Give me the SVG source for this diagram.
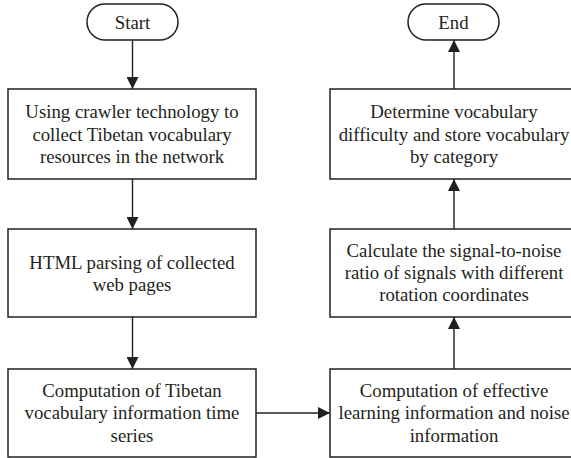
<svg xmlns="http://www.w3.org/2000/svg" width="571" height="458" viewBox="0 0 571 458">
<style>
.box{fill:#fff;stroke:#231f20;stroke-width:1.5}
.t{font-family:"Liberation Serif","Times New Roman",serif;font-size:18.8px;fill:#231f20;text-anchor:middle}
.c{fill:none;stroke:#231f20;stroke-width:1.4}
</style>
<defs>
<marker id="ah" markerUnits="userSpaceOnUse" markerWidth="12" markerHeight="12" refX="12" refY="6" orient="auto" viewBox="0 0 12 12">
<path d="M0,0 L12,6 L0,12 Z" fill="#231f20"/>
</marker>
</defs>
<rect width="571" height="458" fill="#fff"/>
<g id="connectors">
<line class="c" x1="132.5" y1="40" x2="132.5" y2="89" marker-end="url(#ah)"/>
<line class="c" x1="132.5" y1="179" x2="132.5" y2="229" marker-end="url(#ah)"/>
<line class="c" x1="132.5" y1="317" x2="132.5" y2="369" marker-end="url(#ah)"/>
<line class="c" x1="256" y1="413" x2="330" y2="413" marker-end="url(#ah)"/>
<line class="c" x1="454" y1="369" x2="454" y2="317" marker-end="url(#ah)"/>
<line class="c" x1="454" y1="229" x2="454" y2="179" marker-end="url(#ah)"/>
<line class="c" x1="454" y1="89" x2="454" y2="40" marker-end="url(#ah)"/>
</g>
<g id="start">
<rect class="box" x="87" y="4" width="91" height="36" rx="18"/>
<text class="t" x="132.5" y="28.5">Start</text>
</g>
<g id="crawl">
<rect class="box" x="8" y="89" width="248" height="90"/>
<text class="t" x="132" y="118">Using crawler technology to</text>
<text class="t" x="132" y="140.5">collect Tibetan vocabulary</text>
<text class="t" x="132" y="162.5">resources in the network</text>
</g>
<g id="parse">
<rect class="box" x="8" y="229" width="248" height="88"/>
<text class="t" x="132" y="268.5">HTML parsing of collected</text>
<text class="t" x="132" y="290.5">web pages</text>
</g>
<g id="series">
<rect class="box" x="8" y="369" width="248" height="88"/>
<text class="t" x="132" y="396.5">Computation of Tibetan</text>
<text class="t" x="132" y="419">vocabulary information time</text>
<text class="t" x="132" y="441.5">series</text>
</g>
<g id="effective">
<rect class="box" x="330" y="369" width="248" height="88"/>
<text class="t" x="454" y="396.5">Computation of effective</text>
<text class="t" x="454" y="419">learning information and noise</text>
<text class="t" x="454" y="441.5">information</text>
</g>
<g id="snr">
<rect class="box" x="330" y="229" width="248" height="88"/>
<text class="t" x="454" y="257">Calculate the signal-to-noise</text>
<text class="t" x="454" y="278.5">ratio of signals with different</text>
<text class="t" x="454" y="300.5">rotation coordinates</text>
</g>
<g id="store">
<rect class="box" x="330" y="89" width="248" height="90"/>
<text class="t" x="454" y="118">Determine vocabulary</text>
<text class="t" x="454" y="140.5">difficulty and store vocabulary</text>
<text class="t" x="454" y="162.5">by category</text>
</g>
<g id="end">
<rect class="box" x="408" y="4" width="91" height="36" rx="18"/>
<text class="t" x="453.5" y="28.5">End</text>
</g>
</svg>
